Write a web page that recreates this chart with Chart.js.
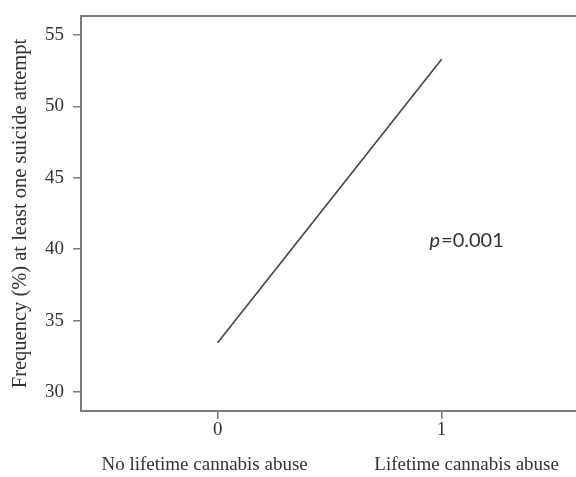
<!DOCTYPE html>
<html>
<head>
<meta charset="utf-8">
<script src="https://cdn.jsdelivr.net/npm/chart.js@4"></script>
<style>
  html, body { margin: 0; padding: 0; background: #fff; }
  #wrap { width: 576px; height: 477px; }
</style>
</head>
<body>
<div id="wrap"><canvas id="myChart"></canvas></div>
<script>
const groups = [0, 1];
const groupNames = ['No lifetime cannabis abuse', 'Lifetime cannabis abuse'];
const frequency = [33.45, 53.3];
const yTicks = [30, 35, 40, 45, 50, 55];
const pText = '0.001';

const axisGray = '#7a7a7a';
const nameShift = [-13, 25];

// top frame line + group names under the 0/1 ticks + p value
const extras = {
  id: 'extras',
  afterDraw(chart) {
    const ctx = chart.ctx;
    const area = chart.chartArea;
    const x = chart.scales.x;
    ctx.save();
    ctx.strokeStyle = axisGray;
    ctx.lineWidth = 2;
    ctx.beginPath();
    ctx.moveTo(area.left - 1, area.top);
    ctx.lineTo(area.right, area.top);
    ctx.stroke();

    ctx.fillStyle = '#333';
    ctx.font = '19px "Liberation Serif"';
    ctx.textAlign = 'center';
    ctx.textBaseline = 'middle';
    groups.forEach((g, i) => {
      ctx.fillText(groupNames[i], x.getPixelForValue(g) + nameShift[i], 465);
    });

    const px = x.getPixelForValue(0.946);
    const py = chart.scales.y.getPixelForValue(40.6);
    ctx.textAlign = 'left';
    ctx.font = 'italic 20px Lato';
    ctx.fillText('p', px, py);
    const w = ctx.measureText('p').width;
    ctx.font = '20px Lato';
    ctx.fillText('=' + pText, px + w + 1, py);
    ctx.restore();
  }
};

const chart = new Chart(document.getElementById('myChart'), {
  type: 'line',
  data: {
    datasets: [{
      data: groups.map((g, i) => ({ x: g, y: frequency[i] })),
      borderColor: '#444',
      borderWidth: 1.6,
      pointRadius: 0,
      tension: 0
    }]
  },
  options: {
    responsive: true,
    maintainAspectRatio: false,
    animation: false,
    layout: { padding: { top: 16, right: 0, left: 0, bottom: 0 } },
    plugins: {
      legend: { display: false },
      tooltip: { enabled: false }
    },
    scales: {
      x: {
        type: 'linear',
        min: -0.61,
        max: 1.6,
        afterBuildTicks(scale) {
          scale.ticks = groups.map(v => ({ value: v }));
        },
        afterFit(scale) { scale.height = 66; scale.paddingRight = 0; },
        border: { display: true, color: axisGray, width: 2 },
        grid: { drawOnChartArea: false, drawTicks: true, tickLength: 8, color: axisGray, lineWidth: 1.5 },
        ticks: {
          color: '#333',
          padding: 0,
          maxRotation: 0,
          font: { family: '"Liberation Serif"', size: 19 }
        }
      },
      y: {
        min: 28.67,
        max: 56.33,
        afterBuildTicks(scale) {
          scale.ticks = yTicks.map(v => ({ value: v }));
        },
        afterFit(scale) { scale.width = 81; scale.paddingTop = 0; scale.paddingBottom = 0; },
        border: { display: true, color: axisGray, width: 2 },
        grid: { drawOnChartArea: false, drawTicks: true, tickLength: 8, color: axisGray, lineWidth: 1.5 },
        ticks: {
          color: '#333',
          padding: 9,
          font: { family: '"Liberation Serif"', size: 19 }
        },
        title: {
          display: true,
          text: 'Frequency (%) at least one suicide attempt',
          color: '#333',
          padding: { top: 8, bottom: 0 },
          font: { family: '"Liberation Serif"', size: 20.5 }
        }
      }
    }
  },
  plugins: [extras]
});
</script>
</body>
</html>
